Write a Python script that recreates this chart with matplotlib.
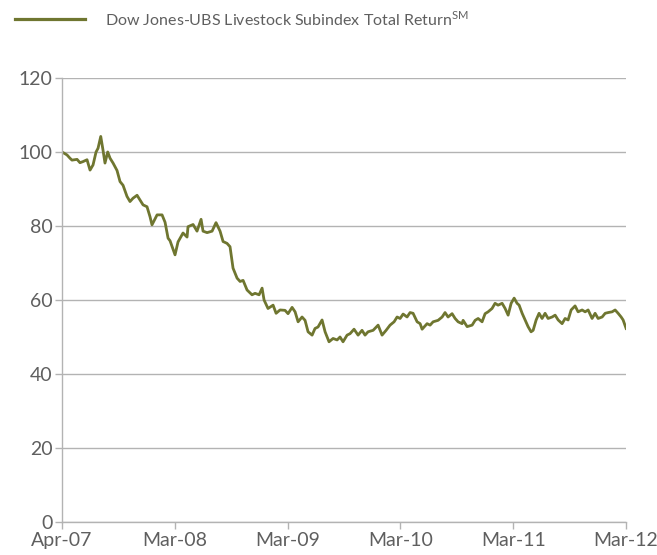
import matplotlib
matplotlib.use('Agg')
import matplotlib.pyplot as plt
from matplotlib.lines import Line2D

# months since Apr-07 and index level
months = [0, 0.53, 0.85, 1.06, 1.6, 1.91, 2.23, 2.66, 2.98, 3.3, 3.62, 3.83, 4.12, 4.36, 4.57,
          4.86, 5.11, 5.43, 5.85, 6.17, 6.49, 6.91, 7.23, 7.55, 7.98, 8.3, 8.62, 9.04, 9.36,
          9.57, 10.11, 10.64, 10.96, 11.28, 11.49, 12.02, 12.34, 12.87, 13.3, 13.4, 13.94,
          14.36, 14.79, 15.0, 15.43, 15.96, 16.38, 16.81, 17.13, 17.55, 17.87, 18.19, 18.62,
          18.94, 19.26, 19.68, 20.21, 20.53, 20.96, 21.28, 21.49, 21.91, 22.45, 22.77, 23.19,
          23.72, 24.04, 24.47, 24.79, 25.11, 25.53, 25.85, 26.17, 26.6, 26.91, 27.23, 27.66,
          27.98, 28.4, 28.83, 29.26, 29.57, 29.89, 30.32, 30.64, 31.06, 31.49, 31.91, 32.23,
          32.55, 33.09, 33.62, 34.04, 34.47, 34.89, 35.32, 35.64, 35.96, 36.28, 36.7, 37.02,
          37.34, 37.77, 38.09, 38.3, 38.83, 39.15, 39.47, 40.0, 40.43, 40.74, 41.06, 41.49,
          41.81, 42.13, 42.55, 42.66, 43.09, 43.62, 43.94, 44.26, 44.68, 45.0, 45.32, 45.74,
          46.06, 46.38, 46.81, 47.13, 47.45, 47.77, 48.09, 48.4, 48.62, 48.94, 49.26, 49.57,
          49.89, 50.11, 50.43, 50.74, 51.06, 51.38, 51.7, 52.13, 52.45, 52.77, 53.19, 53.51,
          53.83, 54.15, 54.57, 54.89, 55.32, 55.64, 55.96, 56.38, 56.7, 57.02, 57.45, 57.77,
          58.09, 58.51, 58.83, 59.15, 59.47, 59.68, 60.0]
values = [100, 99.2, 98.3, 97.8, 98, 97.1, 97.4, 97.9, 95.1, 96.5, 100, 101, 104.2, 100.5, 97,
          100, 98.3, 97, 95, 92, 91, 88, 86.6, 87.5, 88.3, 87, 85.7, 85.2, 82.5,
          80.3, 83, 83, 81, 76.7, 76, 72.2, 75.7, 78.1, 77, 79.8, 80.4,
          78.6, 81.8, 78.6, 78.2, 78.6, 80.9, 78.6, 75.8, 75.3, 74.4, 68.6, 65.9,
          65, 65.3, 62.7, 61.4, 61.8, 61.4, 63.2, 60, 57.7, 58.6, 56.4, 57.3,
          57.2, 56.3, 58, 56.8, 54.1, 55.4, 54.5, 51.4, 50.5, 52.3, 52.7, 54.6,
          51.4, 48.7, 49.6, 49.2, 50, 48.7, 50.5, 50.9, 52.1, 50.5, 51.8, 50.5,
          51.4, 51.8, 53.2, 50.5, 51.8, 53.2, 54.1, 55.4, 55, 56.2, 55.4, 56.6,
          56.4, 54.1, 53.6, 52.1, 53.6, 53.2, 54.1, 54.5, 55.4, 56.6, 55.4, 56.3,
          55, 54.1, 53.6, 54.5, 52.8, 53.2, 54.5, 55, 54.1, 56.3, 56.8, 57.7,
          59.1, 58.6, 59.1, 57.7, 55.9, 59.1, 60.5, 59.1, 58.6, 56.4, 54.6, 52.8,
          51.4, 51.8, 54.6, 56.4, 55, 56.4, 55, 55.4, 55.9, 54.6, 53.6, 55,
          54.6, 57.3, 58.4, 56.8, 57.3, 56.8, 57.3, 55, 56.4, 55, 55.4, 56.4,
          56.6, 56.8, 57.3, 56.4, 55.4, 54.6, 52.3]

tick_pos = [0, 12, 24, 36, 48, 60]
tick_labels = ['Apr-07', 'Mar-08', 'Mar-09', 'Mar-10', 'Mar-11', 'Mar-12']
yticks = [0, 20, 40, 60, 80, 100, 120]

line_col = '#6f7630'
text_col = '#5f5f5f'
grid_col = '#b3b3b3'

plt.rcParams['font.family'] = ['Lato', 'DejaVu Sans']

fig = plt.figure(figsize=(6.57, 5.55), dpi=100)
ax = fig.add_axes([0.0944, 0.0595, 0.8586, 0.80])

ax.plot(months, values, color=line_col, lw=2.0)

ax.set_xlim(0, 60)
ax.set_ylim(0, 120)
ax.set_xticks(tick_pos)
ax.set_xticklabels(tick_labels)
ax.set_yticks(yticks)
ax.yaxis.grid(True, color=grid_col, lw=1)
ax.set_axisbelow(True)
for s in ['top', 'right']:
    ax.spines[s].set_visible(False)
for s in ['left', 'bottom']:
    ax.spines[s].set_color(grid_col)
    ax.spines[s].set_linewidth(1)
ax.tick_params(axis='both', colors=grid_col, length=5, width=1, labelcolor=text_col,
               labelsize=14, pad=2)

# legend drawn by hand at the top
fig.add_artist(Line2D([0.023, 0.129], [0.965, 0.965], color=line_col, lw=2.3,
                      transform=fig.transFigure))
fig.text(0.16, 0.965, r'Dow Jones-UBS Livestock Subindex Total Return$^{\mathregular{SM}}$',
         color=text_col, fontsize=11.5, va='center', ha='left')

fig.savefig('out.png', dpi=100)
